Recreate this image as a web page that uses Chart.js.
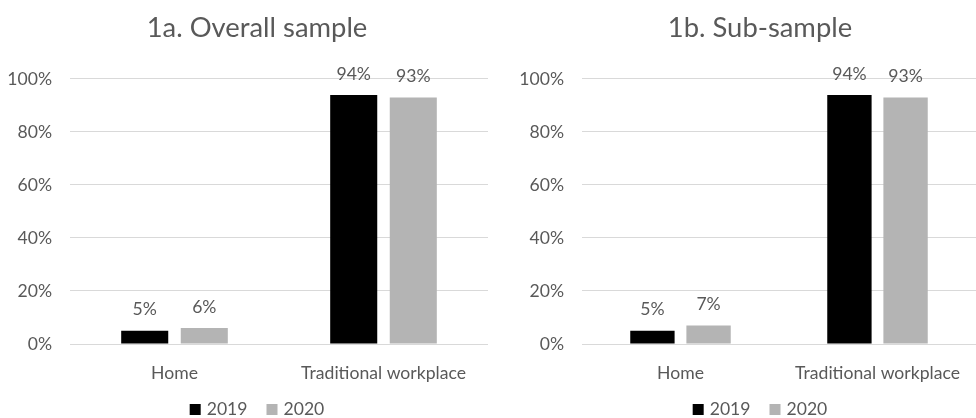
<!DOCTYPE html>
<html>
<head>
<meta charset="utf-8">
<script src="https://cdn.jsdelivr.net/npm/chart.js@4/dist/chart.umd.min.js"></script>
<style>
  html, body { margin: 0; padding: 0; background: #ffffff; overflow: hidden; }
  #wrap { position: relative; width: 976px; height: 418px; overflow: hidden; }
  .panel { position: absolute; top: 0; height: 418px; }
  #left { left: 0; width: 514px; }
  #right { left: 520px; width: 480px; }
</style>
</head>
<body>
<div id="wrap">
  <div class="panel" id="left"><canvas id="chartA"></canvas></div>
  <div class="panel" id="right"><canvas id="chartB"></canvas></div>
</div>
<script>
// Where people worked, share of respondents by year
const categories = ['Home', 'Traditional workplace'];
const seriesNames = ['2019', '2020'];
const seriesColors = ['#000000', '#b4b4b4'];
const overall2019 = [5, 94];
const overall2020 = [6, 93];
const sub2019 = [5, 94];
const sub2020 = [7, 93];
const yTickValues = [0, 20, 40, 60, 80, 100];

const TEXT = '#595959';
const FONT = 'Lato, "Open Sans", sans-serif';
const LABEL_SIZE = 17.6;

// Writes each bar's value just above its top
const valueLabels = {
  id: 'valueLabels',
  afterDatasetsDraw(chart) {
    const ctx = chart.ctx;
    ctx.save();
    ctx.font = LABEL_SIZE + 'px ' + FONT;
    ctx.fillStyle = TEXT;
    ctx.textAlign = 'center';
    ctx.textBaseline = 'middle';
    chart.data.datasets.forEach((ds, i) => {
      chart.getDatasetMeta(i).data.forEach((bar, j) => {
        ctx.fillText(ds.data[j] + '%', bar.x, bar.y - 21);
      });
    });
    ctx.restore();
  }
};

// Series key under the axis, centred under the title
const seriesKey = {
  id: 'seriesKey',
  afterDraw(chart) {
    const ctx = chart.ctx;
    const box = 11, gap = 6, spacing = 19, y = 409.5;
    ctx.save();
    ctx.font = LABEL_SIZE + 'px ' + FONT;
    ctx.textBaseline = 'middle';
    ctx.textAlign = 'left';
    const items = chart.data.datasets.map(ds => ({
      text: ds.label, color: ds.backgroundColor, w: box + gap + ctx.measureText(ds.label).width
    }));
    const total = items.reduce((s, it) => s + it.w, 0) + spacing * (items.length - 1);
    const tb = chart.titleBlock;
    let x = tb.left + tb.width / 2 - total / 2;
    items.forEach(it => {
      ctx.fillStyle = it.color;
      ctx.fillRect(x, y - box / 2, box, box);
      ctx.fillStyle = TEXT;
      ctx.fillText(it.text, x + box + gap, y);
      x += it.w + spacing;
    });
    ctx.restore();
  }
};

function makeChart(id, title, v2019, v2020, axisWidth, rightSpace) {
  return new Chart(document.getElementById(id), {
    type: 'bar',
    data: {
      labels: categories,
      datasets: [
        { label: seriesNames[0], data: v2019, backgroundColor: seriesColors[0], yAxisID: 'y' },
        { label: seriesNames[1], data: v2020, backgroundColor: seriesColors[1], yAxisID: 'y' }
      ]
    },
    options: {
      responsive: true,
      maintainAspectRatio: false,
      animation: false,
      events: [],
      layout: { padding: 0 },
      datasets: { bar: { categoryPercentage: 0.57, barPercentage: 0.79 } },
      scales: {
        x: {
          afterFit: (s) => { s.height = 74; },
          grid: { display: false, drawTicks: false },
          border: { display: false },
          ticks: { color: TEXT, font: { family: FONT, size: LABEL_SIZE }, padding: 19 }
        },
        y: {
          min: 0,
          max: 100,
          afterBuildTicks: (s) => { s.ticks = yTickValues.map(v => ({ value: v })); },
          afterFit: (s) => { s.width = axisWidth; },
          grid: { color: '#d9d9d9', lineWidth: 1, drawTicks: false },
          border: { display: false },
          ticks: {
            color: TEXT,
            font: { family: FONT, size: LABEL_SIZE },
            padding: 18,
            callback: (v) => v + '%'
          }
        },
        // empty margin to the right of the plot
        yr: {
          type: 'linear',
          position: 'right',
          afterFit: (s) => { s.width = rightSpace; },
          grid: { display: false, drawTicks: false },
          border: { display: false },
          ticks: { display: false }
        }
      },
      plugins: {
        title: {
          display: true,
          text: title,
          color: TEXT,
          font: { family: FONT, size: 27.4, weight: 'normal' },
          padding: { top: 11.6, bottom: 34.5 }
        },
        legend: { display: false },
        tooltip: { enabled: false }
      }
    },
    plugins: [valueLabels, seriesKey]
  });
}

makeChart('chartA', '1a. Overall sample', overall2019, overall2020, 70, 26);
makeChart('chartB', '1b. Sub-sample', sub2019, sub2020, 62, 24);
</script>
</body>
</html>
